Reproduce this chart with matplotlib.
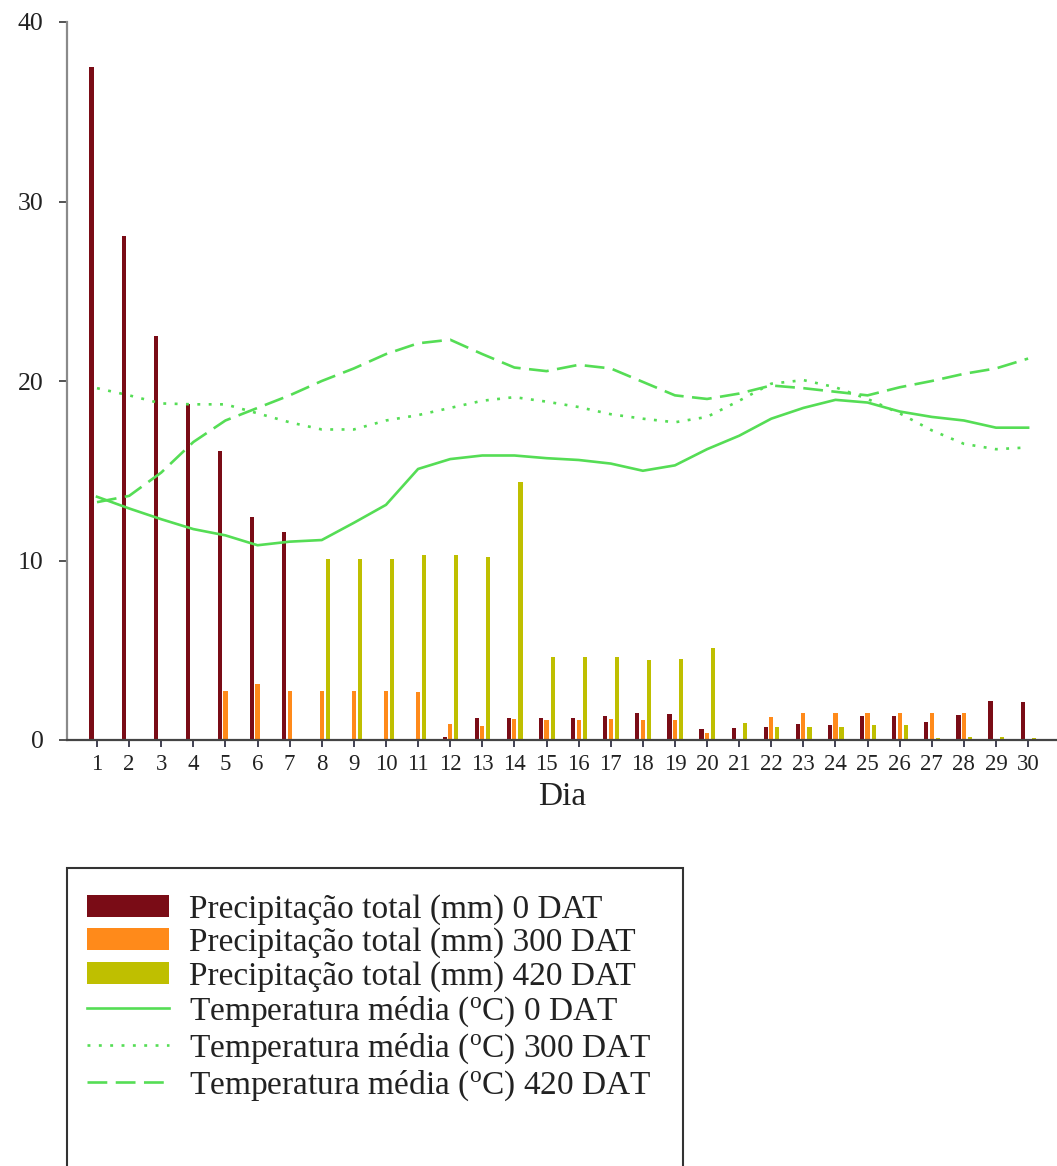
import matplotlib
matplotlib.use("Agg")
import matplotlib.pyplot as plt
from matplotlib.patches import Rectangle
import numpy as np

plt.rcParams['font.family'] = ['Liberation Serif', 'DejaVu Serif']

days = list(range(1, 31))

prec_0 = [37.5, 28.1, 22.5, 18.7, 16.1, 12.4, 11.6, 0, 0, 0, 0, 0.15, 1.2, 1.2, 1.2,
          1.2, 1.33, 1.5, 1.44, 0.6, 0.65, 0.74, 0.87, 0.83, 1.33, 1.33, 1.0, 1.39, 2.2, 2.1]
prec_300 = [0, 0, 0, 0, 2.72, 3.1, 2.72, 2.72, 2.72, 2.72, 2.7, 0.87, 0.8, 1.15, 1.1,
            1.1, 1.15, 1.1, 1.1, 0.4, 0, 1.3, 1.5, 1.5, 1.48, 1.48, 1.5, 1.5, 0.05, 0]
prec_420 = [0, 0, 0, 0, 0, 0, 0, 10.1, 10.1, 10.1, 10.3, 10.3, 10.2, 14.4, 4.63,
            4.63, 4.63, 4.44, 4.54, 5.1, 0.93, 0.74, 0.74, 0.74, 0.83, 0.83, 0.1, 0.15, 0.15, 0.1]

temp_0 = [13.55, 12.9, 12.3, 11.75, 11.4, 10.85, 11.05, 11.14, 12.1, 13.1, 15.1, 15.65, 15.85, 15.85, 15.7,
          15.6, 15.4, 15.0, 15.3, 16.2, 16.95, 17.9, 18.5, 18.95, 18.8, 18.3, 18.0, 17.8, 17.4, 17.4]
temp_300 = [19.6, 19.2, 18.75, 18.7, 18.7, 18.2, 17.7, 17.3, 17.3, 17.8, 18.1, 18.5, 18.9, 19.1, 18.85,
            18.55, 18.15, 17.9, 17.7, 18.0, 18.9, 19.85, 20.05, 19.65, 19.0, 18.2, 17.25, 16.5, 16.2, 16.3]
temp_420 = [13.25, 13.6, 14.9, 16.6, 17.8, 18.5, 19.2, 20.0, 20.7, 21.5, 22.1, 22.3, 21.5, 20.75, 20.55,
            20.9, 20.7, 19.95, 19.2, 19.0, 19.3, 19.75, 19.6, 19.4, 19.2, 19.65, 20.0, 20.4, 20.7, 21.25]

y_ticks = [0, 10, 20, 30, 40]

labels = ["Precipitação total (mm) 0 DAT",
          "Precipitação total (mm) 300 DAT",
          "Precipitação total (mm) 420 DAT",
          "Temperatura média ($\\mathregular{^o}$C) 0 DAT",
          "Temperatura média ($\\mathregular{^o}$C) 300 DAT",
          "Temperatura média ($\\mathregular{^o}$C) 420 DAT"]

c_red = '#7a0c16'
c_orange = '#ff8a1a'
c_olive = '#bfbf00'
c_green = '#55dd55'

W, H = 1057, 1166
fig = plt.figure(figsize=(W / 100, H / 100), dpi=100)
ax = fig.add_axes([67 / W, 1 - 740 / H, 1 - 67 / W, (740 - 22) / H])

x = np.array(days, dtype=float)
bw = 0.13
b1 = ax.bar(x - 0.17, prec_0, width=bw, color=c_red, label=labels[0], zorder=2)
b2 = ax.bar(x, prec_300, width=bw, color=c_orange, label=labels[1], zorder=2)
b3 = ax.bar(x + 0.19, prec_420, width=bw, color=c_olive, label=labels[2], zorder=2)

lw = 1.9
l1, = ax.plot(x, temp_0, color=c_green, lw=lw, label=labels[3], zorder=3)
l2, = ax.plot(x, temp_300, color=c_green, lw=lw, linestyle=(0, (1.1, 3.2)), label=labels[4], zorder=3)
l3, = ax.plot(x, temp_420, color=c_green, lw=lw, linestyle=(0, (7.5, 3.2)), label=labels[5], zorder=3)

ax.set_xlim(0.065, 30.9)
ax.set_ylim(0, 40)
ax.set_xticks(days)
ax.set_xticklabels([str(d) for d in days], fontsize=16.5)
ax.set_yticks(y_ticks)
ax.set_yticklabels([str(v) for v in y_ticks], fontsize=18.5)

for s in ['top', 'right']:
    ax.spines[s].set_visible(False)
ax.spines['left'].set_color('#8a8a8a')
ax.spines['left'].set_linewidth(1.6)
ax.spines['bottom'].set_color('#444444')
ax.spines['bottom'].set_linewidth(1.6)
ax.tick_params(axis='x', direction='out', length=5, width=1.3, color='#333344', pad=5, labelcolor='#222222')
ax.tick_params(axis='y', direction='out', length=6, width=1.3, color='#444444', pad=11, labelcolor='#222222')

ax.set_xlabel("Dia", fontsize=24, color='#222222', labelpad=5)

leg = fig.legend(handles=[b1, b2, b3, l1, l2, l3], labels=labels,
                 loc='upper left', bbox_to_anchor=(87 / W, 1 - 894 / H),
                 frameon=False, fontsize=24, borderpad=0, borderaxespad=0,
                 handlelength=2.45, handleheight=0.65, handletextpad=0.6, labelspacing=0.08)
for t in leg.get_texts():
    t.set_color('#222222')

fig.patches.append(Rectangle((67 / W, -0.02), (683 - 67) / W, (1166 - 868) / H + 0.02,
                             transform=fig.transFigure, fill=False,
                             edgecolor='#333333', linewidth=1.5))

fig.savefig("out.png", dpi=100)
